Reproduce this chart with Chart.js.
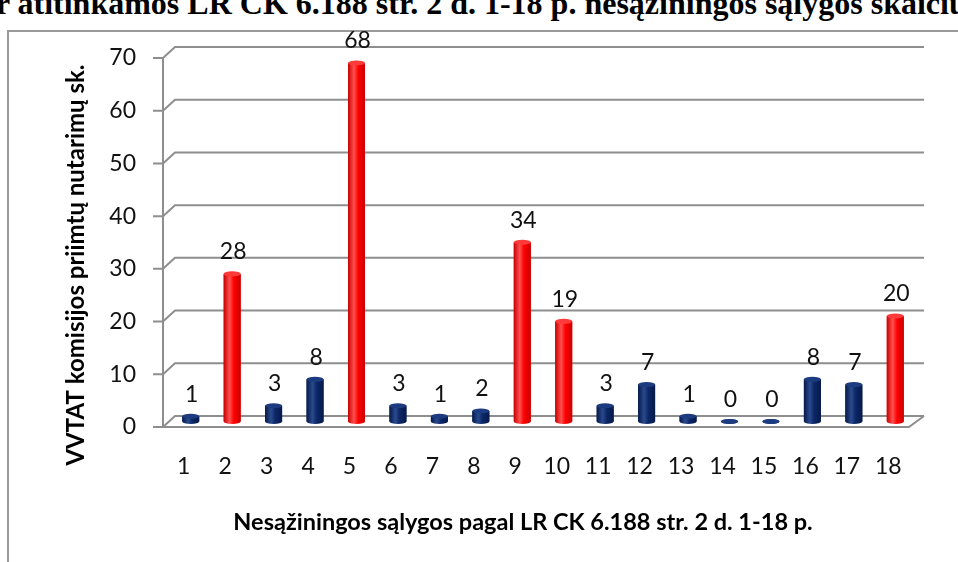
<!DOCTYPE html>
<html>
<head>
<meta charset="utf-8">
<script src="https://cdn.jsdelivr.net/npm/chart.js@4.4.1/dist/chart.umd.min.js"></script>
<style>
    html, body { margin: 0; padding: 0; background: #fff; overflow: hidden; }
    #wrap { position: relative; width: 958px; height: 562px; overflow: hidden; }
    #title {
        position: absolute; left: -13px; top: -15px; white-space: nowrap;
        font: bold 32px "Liberation Serif", "Times New Roman", serif; color: #000;
    }
    #frame {
        position: absolute; left: 7px; top: 30px; width: 980px; height: 600px;
        border-left: 2px solid #9a9a9a; border-top: 2px solid #9a9a9a;
    }
    canvas { position: absolute; left: 0; top: 0; }
</style>
</head>
<body>
<div id="wrap">
    <div id="title">ir atitinkamos LR CK 6.188 str. 2 d. 1-18 p. nesąžiningos sąlygos skaičius</div>
    <div id="frame"></div>
    <canvas id="chart" width="958" height="562"></canvas>
</div>
<script>
// data
const categories = ['1', '2', '3', '4', '5', '6', '7', '8', '9', '10', '11', '12', '13', '14', '15', '16', '17', '18'];
const decisions = [1, 28, 3, 8, 68, 3, 1, 2, 34, 19, 3, 7, 1, 0, 0, 8, 7, 20];
const highlighted = ['2', '5', '9', '10', '18'];
const yTicks = [0, 10, 20, 30, 40, 50, 60, 70];

const xTitle = 'Nesąžiningos sąlygos pagal LR CK 6.188 str. 2 d. 1-18 p.';
const yTitle = 'VVTAT komisijos priimtų nutarimų sk.';

const RED = { body: '#ff0000', dark: '#c80000', light: '#ff5050', top: '#ff3a3a' };
const NAVY = { body: '#0c2766', dark: '#061a4a', light: '#2a4a8e', top: '#1d3c80' };
const palette = categories.map(c => highlighted.includes(c) ? RED : NAVY);

const FONT = 'Lato, "Open Sans", sans-serif';
const GRID = '#8e8e8e';

// 3D offsets from the bar plane (mid depth)
const FRONT = { dx: -7, dy: 5.5 };
const BACK = { dx: 5, dy: -5.5 };

const wallsPlugin = {
    id: 'walls',
    beforeDatasetsDraw(chart) {
        const { ctx, chartArea: a, scales: { y } } = chart;
        ctx.save();
        ctx.strokeStyle = GRID;
        ctx.lineWidth = 2;
        const fx = a.left + FRONT.dx;
        const bx = a.left + BACK.dx;
        yTicks.forEach(v => {
            const ym = y.getPixelForValue(v);
            ctx.beginPath();
            ctx.moveTo(fx - 10, ym + FRONT.dy);
            ctx.lineTo(fx, ym + FRONT.dy);
            ctx.lineTo(bx, ym + BACK.dy);
            ctx.lineTo(a.right + 8, ym + BACK.dy);
            ctx.stroke();
        });
        // floor
        const y0 = y.getPixelForValue(0);
        ctx.beginPath();
        ctx.moveTo(fx, y0 + FRONT.dy);
        ctx.lineTo(a.right - 7, y0 + FRONT.dy);
        ctx.lineTo(a.right + 8, y0 + BACK.dy);
        ctx.stroke();
        // front vertical axis
        ctx.beginPath();
        ctx.moveTo(fx, y.getPixelForValue(70) + FRONT.dy);
        ctx.lineTo(fx, y0 + FRONT.dy);
        ctx.stroke();
        ctx.restore();
    }
};

const cylinderPlugin = {
    id: 'cylinders',
    afterDatasetsDraw(chart) {
        const { ctx } = chart;
        const meta = chart.getDatasetMeta(0);
        ctx.save();
        meta.data.forEach((bar, i) => {
            const c = palette[i];
            const w = bar.width;
            const left = bar.x - w / 2;
            const ry = Math.max(2, w * 0.15);
            const grad = ctx.createLinearGradient(left, 0, left + w, 0);
            grad.addColorStop(0, c.dark);
            grad.addColorStop(0.35, c.light);
            grad.addColorStop(0.6, c.body);
            grad.addColorStop(1, c.dark);

            // bottom cap
            ctx.fillStyle = grad;
            ctx.beginPath();
            ctx.ellipse(bar.x, bar.base, w / 2, ry, 0, 0, Math.PI * 2);
            ctx.fill();
            // body
            ctx.fillRect(left, bar.y, w, bar.base - bar.y);
            // top cap
            ctx.fillStyle = c.top;
            ctx.beginPath();
            ctx.ellipse(bar.x, bar.y, w / 2, ry, 0, 0, Math.PI * 2);
            ctx.fill();

            // value label
            ctx.fillStyle = '#111';
            ctx.font = '23px ' + FONT;
            ctx.textAlign = 'center';
            ctx.textBaseline = 'middle';
            ctx.fillText(String(decisions[i]), bar.x + 1, bar.y - 22);
        });
        ctx.restore();
    },
    afterDraw(chart) {
        const { ctx } = chart;
        ctx.save();
        ctx.fillStyle = '#000';
        ctx.textAlign = 'center';
        ctx.textBaseline = 'middle';
        ctx.font = 'bold 23.5px ' + FONT;
        ctx.fillText(xTitle, 523, 522);
        ctx.font = 'bold 24px ' + FONT;
        ctx.translate(76, 265);
        ctx.rotate(-Math.PI / 2);
        ctx.fillText(yTitle, 0, 0);
        ctx.restore();
    }
};

new Chart(document.getElementById('chart'), {
    type: 'bar',
    data: {
        labels: categories,
        datasets: [{
            label: 'VVTAT',
            data: decisions,
            backgroundColor: palette.map(c => c.body),
            borderWidth: 0,
            barPercentage: 0.82,
            categoryPercentage: 0.5
        }]
    },
    options: {
        responsive: false,
        animation: false,
        events: [],
        layout: { padding: { left: 0, right: 42, top: 52.5, bottom: 0 } },
        plugins: {
            legend: { display: false },
            tooltip: { enabled: false }
        },
        scales: {
            x: {
                grid: { display: false },
                border: { display: false },
                ticks: {
                    font: { family: FONT, size: 23 },
                    color: '#111',
                    padding: 23,
                    labelOffset: -7,
                    maxRotation: 0,
                    autoSkip: false
                },
                afterFit: s => { s.height = 140.5; }
            },
            y: {
                min: 0,
                max: 70,
                grid: { display: false },
                border: { display: false },
                ticks: {
                    stepSize: 10,
                    font: { family: FONT, size: 23 },
                    color: '#111',
                    padding: 26,
                    labelOffset: 5.5
                },
                afterFit: s => { s.width = 170; }
            }
        }
    },
    plugins: [wallsPlugin, cylinderPlugin]
});
</script>
</body>
</html>
